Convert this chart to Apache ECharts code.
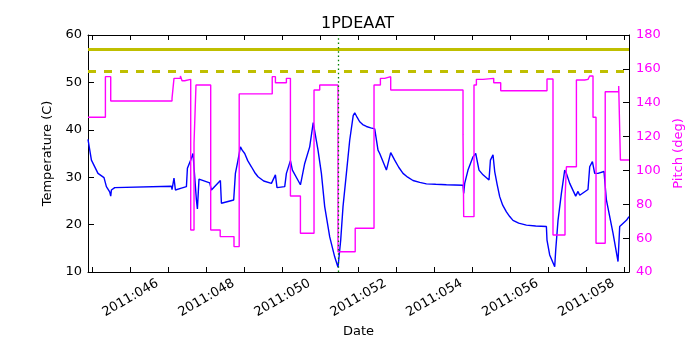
<!DOCTYPE html>
<html>
<head>
<meta charset="utf-8">
<script src="https://cdn.jsdelivr.net/npm/echarts@6/dist/echarts.min.js"></script>
<style>
  html, body { margin: 0; padding: 0; background: #fff; }
  #main { width: 700px; height: 350px; }
</style>
</head>
<body>
<div id="main"></div>
<script>
// x values are fractional day-of-year in 2011
var tempDays = [44.884, 44.974, 45.147, 45.305, 45.342, 45.368, 45.455, 45.482, 45.5, 45.587,
  47.079, 47.095, 47.147, 47.184, 47.342, 47.474, 47.5, 47.587, 47.647, 47.737,
  47.763, 47.805, 48.087, 48.132, 48.368, 48.395, 48.437, 48.718, 48.763, 48.832,
  48.895, 48.942, 49.008, 49.087, 49.184, 49.271, 49.358, 49.508, 49.711, 49.753,
  49.816, 49.858, 50.061, 50.105, 50.211, 50.263, 50.474, 50.5, 50.587, 50.718,
  50.811, 50.937, 51.026, 51.113, 51.245, 51.376, 51.463, 51.508, 51.534, 51.595,
  51.684, 51.771, 51.863, 51.903, 51.968, 52.034, 52.113, 52.211, 52.324, 52.429,
  52.474, 52.516, 52.561, 52.737, 52.753, 52.85, 52.955, 53.061, 53.174, 53.297,
  53.437, 53.613, 53.789, 54.034, 54.316, 54.753, 54.771, 54.797, 54.884, 55.016,
  55.087, 55.121, 55.174, 55.279, 55.437, 55.474, 55.542, 55.587, 55.653, 55.718,
  55.797, 55.895, 55.982, 56.068, 56.218, 56.421, 56.666, 56.947, 56.963, 57.034,
  57.166, 57.192, 57.253, 57.342, 57.429, 57.474, 57.561, 57.718, 57.779, 57.824,
  58.042, 58.087, 58.158, 58.218, 58.305, 58.463, 58.526, 58.7, 58.832, 58.876,
  58.921, 59.053, 59.121];
var tempValues = [38.0, 33.6, 30.8, 29.9, 29.6, 28.0, 26.9, 26.0, 27.3, 27.8,
  28.1, 27.4, 29.8, 27.3, 27.7, 28.0, 31.9, 33.6, 35.0, 25.2,
  23.3, 29.6, 28.8, 27.3, 29.3, 24.5, 24.1, 25.2, 30.8, 33.6,
  36.4, 35.7, 35.0, 33.5, 32.2, 31.0, 30.1, 29.2, 28.7, 28.7,
  30.5, 27.8, 28.0, 30.8, 33.5, 31.5, 28.4, 29.4, 32.9, 36.4,
  41.5, 35.7, 30.8, 23.8, 17.4, 13.2, 11.0, 11.3, 16.7, 23.8,
  30.8, 37.8, 43.0, 43.6, 42.6, 41.7, 41.1, 40.7, 40.4, 40.2,
  40.3, 35.7, 35.0, 31.5, 31.2, 35.2, 33.6, 32.1, 30.8, 30.0,
  29.3, 28.9, 28.6, 28.5, 28.4, 28.3, 26.6, 28.7, 31.5, 34.3,
  35.0, 34.9, 31.5, 30.5, 29.4, 33.6, 34.7, 31.2, 28.4, 25.9,
  24.1, 22.7, 21.7, 20.9, 20.3, 19.9, 19.7, 19.6, 16.7, 13.6,
  11.1, 14.6, 20.9, 26.6, 31.5, 30.8, 28.7, 26.0, 27.0, 26.2,
  27.4, 32.2, 33.3, 30.8, 30.8, 31.2, 25.2, 18.2, 12.2, 19.6,
  19.9, 20.9, 21.7];

// pitch holds each value until the next day in the list
var pitchDays = [44.884, 45.342, 45.482, 47.095, 47.147, 47.316, 47.358, 47.429, 47.587, 47.674,
  47.726, 48.113, 48.363, 48.726, 48.863, 49.732, 49.816, 50.105, 50.211, 50.474,
  50.832, 50.982, 51.463, 51.916, 52.411, 52.579, 52.692, 52.85, 54.753, 54.771,
  55.042, 55.105, 55.279, 55.561, 55.745, 56.963, 57.121, 57.437, 57.474, 57.737,
  57.955, 58.042, 58.087, 58.174, 58.253, 58.495, 58.85, 58.895, 59.121];
var pitchValues = [131.4, 155.4, 141.0, 142.6, 154.4, 155.8, 153.0, 153.8, 64.8, 116.0,
  150.5, 64.8, 60.9, 55.0, 145.2, 155.4, 151.8, 154.4, 84.9, 62.9,
  147.5, 150.5, 52.0, 65.8, 150.5, 154.4, 155.4, 147.5, 121.0, 72.7,
  150.5, 153.8, 154.4, 151.8, 147.1, 154.0, 61.9, 83.5, 102.2, 153.4,
  153.8, 154.4, 155.8, 131.4, 57.0, 146.5, 149.9, 106.2, 106.2];

var dayTicks = [45, 46, 47, 48, 49, 50, 51, 52, 53, 54, 55, 56, 57, 58, 59];
var dayLabels = [46, 48, 50, 52, 54, 56, 58];
var limitHigh = 57.0;
var limitLow = 52.3;
var markerDay = 51.463;

var font = 'DejaVu Sans';

function zip(xs, ys) {
  return xs.map(function (x, i) { return [x, ys[i]]; });
}

var myChart = echarts.init(document.getElementById('main'));
myChart.setOption({
  animation: false,
  textStyle: { fontFamily: font },
  title: {
    text: '1PDEAAT',
    left: 321,
    top: 16,
    padding: 0,
    textStyle: { fontSize: 16, fontWeight: 'normal', color: '#000', fontFamily: font }
  },
  grid: { left: 88, top: 35, width: 541, height: 237 },
  xAxis: [
    {
      type: 'value',
      position: 'bottom',
      min: 44.884,
      max: 59.121,
      name: 'Date',
      nameLocation: 'middle',
      nameGap: 53,
      nameTextStyle: { fontSize: 13, color: '#000', fontFamily: font },
      axisLine: { lineStyle: { color: '#000', width: 1 } },
      axisTick: { inside: true, length: 5, customValues: dayTicks, lineStyle: { color: '#000' } },
      axisLabel: {
        customValues: dayLabels,
        rotate: 30,
        align: 'center',
        verticalAlign: 'middle',
        margin: 26,
        fontSize: 13,
        color: '#000',
        fontFamily: font,
        formatter: function (v) { return '2011:0' + (v < 10 ? '0' : '') + v; }
      },
      splitLine: { show: false }
    },
    {
      type: 'value',
      position: 'top',
      min: 44.884,
      max: 59.121,
      axisLine: { lineStyle: { color: '#000', width: 1 } },
      axisTick: { inside: true, length: 5, customValues: dayTicks, lineStyle: { color: '#000' } },
      axisLabel: { show: false },
      splitLine: { show: false }
    }
  ],
  yAxis: [
    {
      type: 'value',
      position: 'left',
      min: 10,
      max: 60,
      interval: 10,
      name: 'Temperature (C)',
      nameLocation: 'middle',
      nameGap: 31,
      nameTextStyle: { fontSize: 13, color: '#000', fontFamily: font },
      axisLine: { show: true, lineStyle: { color: '#000', width: 1 } },
      axisTick: { show: true, inside: true, length: 6, lineStyle: { color: '#000' } },
      axisLabel: { fontSize: 13, color: '#000', margin: 6, fontFamily: font },
      splitLine: { show: false }
    },
    {
      type: 'value',
      position: 'right',
      min: 40,
      max: 180,
      interval: 20,
      name: 'Pitch (deg)',
      nameLocation: 'middle',
      nameGap: 37,
      nameTextStyle: { fontSize: 13, color: '#ff00ff', fontFamily: font },
      axisLine: { show: true, lineStyle: { color: '#000', width: 1 } },
      axisTick: { show: true, inside: true, length: 6, lineStyle: { color: '#000' } },
      axisLabel: { fontSize: 13, color: '#ff00ff', margin: 7, fontFamily: font },
      splitLine: { show: false }
    }
  ],
  series: [
    {
      name: 'Temperature',
      type: 'line',
      xAxisIndex: 0,
      yAxisIndex: 0,
      showSymbol: false,
      data: zip(tempDays, tempValues),
      lineStyle: { color: '#0000ff', width: 1.4 },
      markLine: {
        silent: true,
        symbol: ['none', 'none'],
        label: { show: false },
        lineStyle: { color: '#bfbf00', width: 3 },
        data: [
          { yAxis: limitHigh, lineStyle: { type: 'solid', color: '#bfbf00', width: 3 } },
          { yAxis: limitLow, lineStyle: { type: [8, 8], color: '#bfbf00', width: 3 } }
        ]
      }
    },
    {
      name: 'Pitch',
      type: 'line',
      xAxisIndex: 0,
      yAxisIndex: 1,
      step: 'end',
      showSymbol: false,
      data: zip(pitchDays, pitchValues),
      lineStyle: { color: '#ff00ff', width: 1.4 },
      markLine: {
        silent: true,
        symbol: ['none', 'none'],
        label: { show: false },
        lineStyle: { color: '#008000', width: 1.3, type: [1.5, 2.8] },
        data: [{ xAxis: markerDay }]
      }
    }
  ]
});
</script>
</body>
</html>
